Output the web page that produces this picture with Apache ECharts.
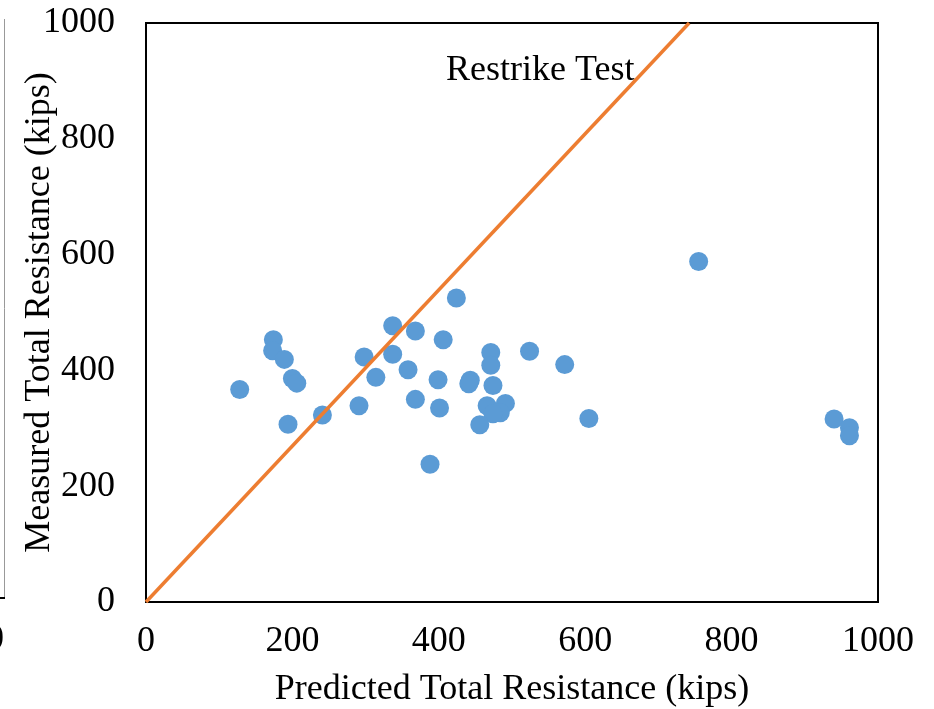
<!DOCTYPE html>
<html>
<head>
<meta charset="utf-8">
<script src="https://cdn.jsdelivr.net/npm/echarts@6/dist/echarts.min.js"></script>
<style>
html,body{margin:0;padding:0;background:#fff;}
#chart{width:934px;height:709px;}
</style>
</head>
<body>
<div id="chart"></div>
<script>
// Data
var predicted = [128,174,173,189,200,206,194,241,291,298,314,337,337,368,358,368,406,424,399,401,388,443,441,471,471,474,466,491,484,474,456,524,572,605,755,940,961,961];
var measured  = [367,453,434,419,386,378,307,323,339,423,388,477,428,468,401,350,453,525,384,335,238,383,377,431,409,374,339,343,327,325,306,433,410,317,588,316,301,287];
var refLineX = [0, 742];
var refLineY = [0, 1000];
var axisMin = 0, axisMax = 1000, axisStep = 200;
var xTitle = 'Predicted Total Resistance (kips)';
var yTitle = 'Measured Total Resistance (kips)';
var chartLabel = 'Restrike Test';

var FONT = '"Liberation Serif", "Times New Roman", serif';

var scatterData = predicted.map(function (x, i) { return [x, measured[i]]; });
var lineData = refLineX.map(function (x, i) { return [x, refLineY[i]]; });
var plainNum = function (v) { return String(v); };

var chart = echarts.init(document.getElementById('chart'));
chart.setOption({
  backgroundColor: '#ffffff',
  animation: false,
  grid: {
    left: 146, top: 23, width: 732, height: 579,
    containLabel: false, outerBoundsMode: 'none',
    show: true, borderColor: '#000', borderWidth: 2, backgroundColor: 'transparent'
  },
  xAxis: {
    type: 'value', min: axisMin, max: axisMax, interval: axisStep,
    name: xTitle, nameLocation: 'middle', nameGap: 70, nameMoveOverlap: false,
    nameTextStyle: { fontFamily: FONT, fontSize: 36, color: '#000' },
    axisLine: { show: true, lineStyle: { color: '#000', width: 2 } },
    axisTick: { show: false },
    splitLine: { show: false },
    axisLabel: { fontFamily: FONT, fontSize: 36, color: '#000', margin: 22, formatter: plainNum }
  },
  yAxis: {
    type: 'value', min: axisMin, max: axisMax, interval: axisStep,
    name: yTitle, nameLocation: 'middle', nameGap: 88, nameMoveOverlap: false,
    nameTextStyle: { fontFamily: FONT, fontSize: 36, color: '#000' },
    axisLine: { show: true, lineStyle: { color: '#000', width: 2 } },
    axisTick: { show: false },
    splitLine: { show: false },
    axisLabel: { fontFamily: FONT, fontSize: 36, color: '#000', margin: 31, formatter: plainNum }
  },
  graphic: [
    { type: 'text', left: 446, top: 53, style: { text: chartLabel, font: '36px ' + FONT, fill: '#000' } },
    { type: 'line', shape: { x1: 4.5, y1: 19, x2: 4.5, y2: 598 }, style: { stroke: '#999', lineWidth: 1 } },
    { type: 'line', shape: { x1: 0, y1: 598, x2: 5, y2: 598 }, style: { stroke: '#000', lineWidth: 2 } },
    { type: 'text', left: -14, top: 622, style: { text: '0', font: '36px ' + FONT, fill: '#000' } }
  ],
  series: [
    {
      type: 'scatter', data: scatterData, symbol: 'circle', symbolSize: 19,
      itemStyle: { color: '#5B9BD5', opacity: 1 }, z: 2
    },
    {
      type: 'line', data: lineData, showSymbol: false, symbol: 'none',
      lineStyle: { color: '#ED7D31', width: 3.5 }, z: 3
    }
  ]
});
</script>
</body>
</html>
